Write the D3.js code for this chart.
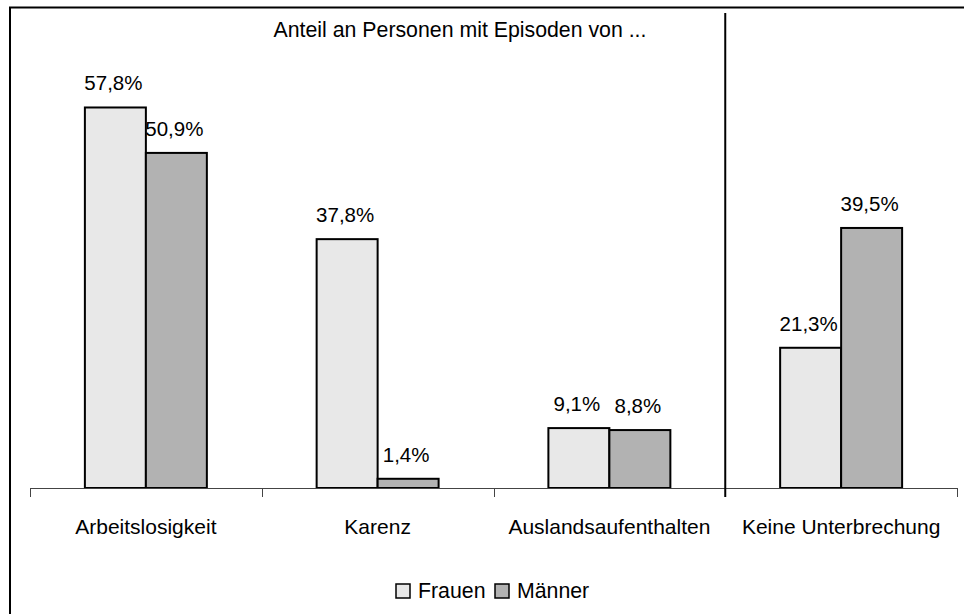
<!DOCTYPE html>
<html>
<head>
<meta charset="utf-8">
<script src="https://cdn.jsdelivr.net/npm/d3@7"></script>
<style>
  body { margin: 0; background: #fff; }
  svg { display: block; font-family: "Liberation Sans", Arial, sans-serif; }
</style>
</head>
<body>
<div class="container"></div>
<script>
const width = 964;
const height = 614;

const categories = ['Arbeitslosigkeit', 'Karenz', 'Auslandsaufenthalten', 'Keine Unterbrechung'];
const series = ['Frauen', 'Männer'];
const frauen = [57.8, 37.8, 9.1, 21.3];
const maenner = [50.9, 1.4, 8.8, 39.5];
const seriesValues = [frauen, maenner];
const colors = ['#e8e8e8', '#b2b2b2'];

const de = d3.formatLocale({ decimal: ',', thousands: '.', grouping: [3], currency: ['', ' €'] });
const fmt = v => de.format('.1f')(v) + '%';

const x = d3.scaleBand()
  .domain(categories)
  .range([30, 957]);

const xInner = d3.scaleBand()
  .domain(series)
  .range([0, x.bandwidth()])
  .paddingOuter(0.9);

const y = d3.scaleLinear()
  .domain([0, 60])
  .range([488, 93]);

const svg = d3.select('.container')
  .append('svg')
  .attr('width', width)
  .attr('height', height);

// outer frame (runs off the right and bottom edge)
svg.append('rect')
  .attr('x', 10)
  .attr('y', 7.5)
  .attr('width', 1000)
  .attr('height', 700)
  .attr('fill', 'none')
  .attr('stroke', '#000')
  .attr('stroke-width', 2);

svg.append('text')
  .attr('x', 460)
  .attr('y', 37)
  .attr('text-anchor', 'middle')
  .attr('font-size', 21.3)
  .text('Anteil an Personen mit Episoden von ...');

const rows = categories.flatMap((c, i) =>
  series.map((s, j) => ({ cat: c, s, j, v: seriesValues[j][i] })));

const groups = svg.selectAll('g.bar')
  .data(rows)
  .enter()
  .append('g')
  .attr('class', 'bar')
  .attr('transform', d => `translate(${x(d.cat) + xInner(d.s)},0)`);

groups.append('rect')
  .attr('y', d => y(d.v))
  .attr('width', xInner.bandwidth())
  .attr('height', d => y(0) - y(d.v))
  .attr('fill', d => colors[d.j])
  .attr('stroke', '#000')
  .attr('stroke-width', 2);

groups.append('text')
  .attr('x', xInner.bandwidth() / 2 - 2)
  .attr('y', d => y(d.v) - 17)
  .attr('text-anchor', 'middle')
  .attr('font-size', 20.5)
  .text(d => fmt(d.v));

// x axis
const axis = svg.append('g')
  .attr('transform', `translate(0,${y(0)})`)
  .call(d3.axisBottom(x).tickSize(0).tickFormat(''));
axis.select('.domain').attr('stroke', '#444').attr('d', `M30,0.5H957`);

const bounds = x.domain().map(c => x(c)).concat([x.range()[1]]);
svg.selectAll('line.tick')
  .data(bounds)
  .enter()
  .append('line')
  .attr('class', 'tick')
  .attr('x1', d => Math.round(d) + 0.5)
  .attr('x2', d => Math.round(d) + 0.5)
  .attr('y1', y(0))
  .attr('y2', y(0) + 9)
  .attr('stroke', '#444');

svg.selectAll('text.cat')
  .data(categories)
  .enter()
  .append('text')
  .attr('class', 'cat')
  .attr('x', d => x(d) + x.bandwidth() / 2)
  .attr('y', 534)
  .attr('text-anchor', 'middle')
  .attr('font-size', 21)
  .text(d => d);

// separator before "Keine Unterbrechung"
svg.append('line')
  .attr('x1', x(categories[3]))
  .attr('x2', x(categories[3]))
  .attr('y1', 13)
  .attr('y2', 497)
  .attr('stroke', '#000')
  .attr('stroke-width', 2);

// legend
const legend = svg.append('g')
  .attr('transform', 'translate(396,584)');
const legendX = [0, 99];
series.forEach((s, j) => {
  const g = legend.append('g').attr('transform', `translate(${legendX[j]},0)`);
  g.append('rect')
    .attr('width', 14)
    .attr('height', 14)
    .attr('fill', colors[j])
    .attr('stroke', '#000')
    .attr('stroke-width', 1.5);
  g.append('text')
    .attr('x', 22)
    .attr('y', 14)
    .attr('font-size', 21.3)
    .text(s);
});
</script>
</body>
</html>
